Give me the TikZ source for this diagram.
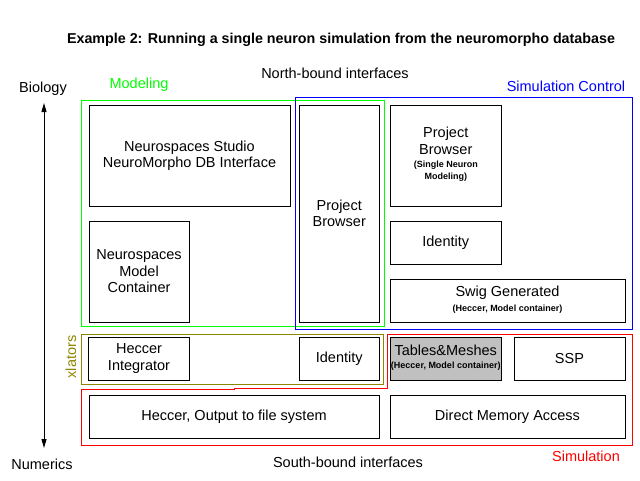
\documentclass[tikz,border=0pt]{standalone}
\usepackage{fontspec}
\setmainfont{Liberation Sans}
\usetikzlibrary{arrows.meta}
\newcommand\subtxt[1]{{\fontsize{9}{12}\selectfont\bfseries%
  \begin{tabular}[t]{@{}c@{}}#1\end{tabular}}}

\begin{document}
\begin{tikzpicture}[x=1pt,y=-1pt,
    box/.style={draw,line width=1pt,align=center,inner sep=0pt,%
      font=\fontsize{14.5}{16.5}\selectfont},
    lbl/.style={font=\fontsize{14.5}{16.5}\selectfont,inner sep=0pt}]
      \useasboundingbox (0,0) rectangle (640,480) ;
      \node[font=\fontsize{14.3}{16}\selectfont\bfseries] (title) at (341,40) %
      {Example 2: Running a single neuron simulation from the neuromorpho database} ;
      % axis
      \node[lbl] (bio) at (43,89) {Biology} ;
      \node[lbl] (num) at (42,464) {Numerics} ;
      \coordinate (top) at (44,103) ;
      \coordinate (bot) at (44,448) ;
      \draw[line width=1pt,{Triangle[width=5pt,length=9pt]}-{Triangle[width=5pt,length=9pt]}] %
      (top)--(bot) ;
      \node[lbl] (north) at (335,73) {North-bound interfaces} ;
      \node[lbl] (south) at (348,462) {South-bound interfaces} ;
      % groups
      \draw[line width=1pt,green] (81,100.5) rectangle (384.5,326) ;
      \draw[line width=1pt,blue] (295.5,97.5) rectangle (632,329) ;
      \draw[line width=1pt,olive] (81,334) rectangle (383.5,384) ;
      \draw[line width=1pt,red] (81,389) -- (234,389) -- (234,388) -- (387,388) %
      -- (387,334) -- (632,334) -- (632,445) -- (81,445) -- cycle ;
      \node[lbl,green] (modeling) at (139,85) {Modeling} ;
      \node[lbl,blue] (simctl) at (566,86) {Simulation Control} ;
      \node[lbl,red] (sim) at (586,456) {Simulation} ;
      \node[lbl,olive,rotate=90] (xlators) at (71,357) {xlators} ;
      % blocks
      \node[box,minimum width=201,minimum height=101] (studio) at (189.5,155.5) %
      {Neurospaces Studio\\NeuroMorpho DB Interface} ;
      \node[box,minimum width=100,minimum height=101] (container) at (139,271.5) %
      {Neurospaces\\Model\\Container} ;
      \node[box,minimum width=79.5,minimum height=217] (browserA) at (339.25,213.5) %
      {Project\\Browser} ;
      \node[box,minimum width=111.5,minimum height=101] (browserB) at (445.75,155.5) %
      {Project\\Browser\\[-3pt]\subtxt{(Single Neuron\\Modeling)}} ;
      \node[box,minimum width=111.5,minimum height=43] (identA) at (445.75,242.5) %
      {Identity} ;
      \node[box,minimum width=235,minimum height=43] (swig) at (507.5,300.5) %
      {Swig Generated\\[-2pt]\subtxt{(Heccer, Model container)}} ;
      \node[box,minimum width=101,minimum height=43] (heccer) at (139,358.5) %
      {Heccer\\Integrator} ;
      \node[box,minimum width=79.5,minimum height=43] (identB) at (339.25,358.5) %
      {Identity} ;
      \node[box,fill={rgb,255:red,192;green,192;blue,192},minimum width=111.5,minimum height=43] %
      (tables) at (445.75,358.5) {Tables\&Meshes\\[-3pt]\subtxt{(Heccer, Model container)}} ;
      \node[box,minimum width=111,minimum height=43] (ssp) at (569.5,358.5) {SSP} ;
      \node[box,minimum width=290,minimum height=43] (output) at (234,416.5) %
      {Heccer, Output to file system} ;
      \node[box,minimum width=235,minimum height=43] (dma) at (507.5,416.5) %
      {Direct Memory Access} ;
    \end{tikzpicture}
\end{document}
